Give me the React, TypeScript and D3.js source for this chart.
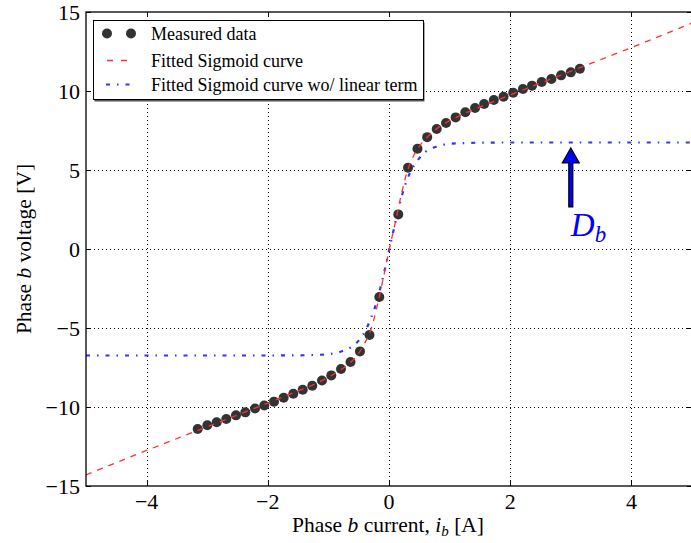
import * as d3 from "d3";
import { useEffect, useRef } from "react";

// measured points (current [A], voltage [V])
const measuredI = [
  -3.157, -2.998, -2.843, -2.685, -2.525, -2.371, -2.211, -2.058, -1.898, -1.738,
  -1.579, -1.424, -1.266, -1.106, -0.952, -0.792, -0.635, -0.479, -0.322, -0.16,
  0.153, 0.314, 0.47, 0.63, 0.787, 0.941, 1.1, 1.26, 1.42, 1.57,
  1.73, 1.89, 2.05, 2.21, 2.36, 2.52, 2.68, 2.84, 3.0, 3.15
];
const measuredV = [
  -11.39, -11.16, -10.97, -10.76, -10.53, -10.34, -10.09, -9.9, -9.66, -9.41,
  -9.16, -8.91, -8.65, -8.32, -8.0, -7.59, -7.15, -6.48, -5.44, -3.04,
  2.19, 5.15, 6.35, 7.08, 7.59, 7.97, 8.33, 8.65, 8.92, 9.18,
  9.43, 9.64, 9.89, 10.13, 10.34, 10.57, 10.76, 10.99, 11.18, 11.41
];

// fitted sigmoid curve
const fitI = [
  -5, -4, -3, -2, -1.5, -1.2, -1, -0.8, -0.6, -0.5, -0.4, -0.3, -0.2, -0.1, 0,
  0.1, 0.2, 0.3, 0.4, 0.5, 0.6, 0.8, 1, 1.2, 1.5, 2, 3, 4, 5
];
const fitV = [
  -14.3, -12.75, -11.25, -9.75, -8.98, -8.5, -8.12, -7.65, -7.05, -6.6, -5.95, -5.1, -3.7, -1.95, -0.1,
  1.6, 3.4, 4.9, 5.85, 6.5, 6.95, 7.65, 8.12, 8.5, 8.98, 9.75, 11.25, 12.75, 14.3
];

// fitted sigmoid without the linear term
const noLinI = [
  -5, -2, -1.5, -1.2, -1, -0.8, -0.6, -0.5, -0.4, -0.3, -0.2, -0.1, 0,
  0.1, 0.2, 0.3, 0.4, 0.5, 0.6, 0.8, 1, 1.2, 1.5, 2, 5
];
const noLinV = [
  -6.74, -6.74, -6.73, -6.7, -6.66, -6.5, -6.15, -5.8, -5.25, -4.4, -3.3, -1.8, -0.1,
  1.6, 3.2, 4.4, 5.2, 5.75, 6.15, 6.5, 6.66, 6.7, 6.73, 6.74, 6.74
];

const xTicks = [-4, -2, 0, 2, 4];
const yTicks = [-15, -10, -5, 0, 5, 10, 15];

// annotation arrow for D_b
const arrowI = 3.0;
const arrowFrom = 2.66;
const arrowTo = 6.4;

const FONT = "'Liberation Serif', 'Times New Roman', serif";

const drawChart = (node: SVGSVGElement) => {
  const W = 691;
  const H = 543;
  const left = 86, right = 692, top = 12, bottom = 486;

  const svg = d3.select(node);
  svg.selectAll("*").remove();
  svg.attr("width", W).attr("height", H);

  const x = d3.scaleLinear().domain([-5, 5]).range([left, right]);
  const y = d3.scaleLinear().domain([-15, 15]).range([bottom, top]);

  svg.append("rect").attr("width", W).attr("height", H).attr("fill", "#fff");

  svg.append("clipPath").attr("id", "plot-clip")
    .append("rect")
    .attr("x", left).attr("y", top)
    .attr("width", right - left).attr("height", bottom - top);

  // grid
  const grid = svg.append("g")
    .attr("stroke", "#000")
    .attr("stroke-width", 1)
    .attr("stroke-dasharray", "1,3");
  grid.selectAll("line.gx").data(xTicks).join("line")
    .attr("x1", d => Math.round(x(d)) + 0.5).attr("x2", d => Math.round(x(d)) + 0.5)
    .attr("y1", top).attr("y2", bottom);
  grid.selectAll("line.gy").data(yTicks.filter(d => d > -15 && d < 15)).join("line")
    .attr("y1", d => Math.round(y(d)) + 0.5).attr("y2", d => Math.round(y(d)) + 0.5)
    .attr("x1", left).attr("x2", right);

  const plot = svg.append("g").attr("clip-path", "url(#plot-clip)");

  const line = d3.line<[number, number]>()
    .x(d => x(d[0]))
    .y(d => y(d[1]))
    .curve(d3.curveMonotoneX);

  // blue dash-dot curve
  plot.append("path")
    .datum(noLinI.map((v, i) => [v, noLinV[i]] as [number, number]))
    .attr("fill", "none")
    .attr("stroke", "#3333ff")
    .attr("stroke-width", 2.2)
    .attr("stroke-dasharray", "4,7,1.5,7")
    .attr("d", line);

  // measured data
  plot.selectAll("circle.pt")
    .data(measuredI.map((v, i) => [v, measuredV[i]]))
    .join("circle")
    .attr("cx", d => x(d[0]))
    .attr("cy", d => y(d[1]))
    .attr("r", 5)
    .attr("fill", "#333333");

  // red dashed curve
  plot.append("path")
    .datum(fitI.map((v, i) => [v, fitV[i]] as [number, number]))
    .attr("fill", "none")
    .attr("stroke", "#ff3030")
    .attr("stroke-width", 1.3)
    .attr("stroke-dasharray", "6,6")
    .attr("d", line);

  // frame + inward ticks
  const axes = svg.append("g").attr("stroke", "#000").attr("fill", "none");
  axes.append("rect")
    .attr("x", left).attr("y", top)
    .attr("width", right - left).attr("height", bottom - top)
    .attr("stroke-width", 1.3);
  xTicks.forEach(t => {
    const px = Math.round(x(t)) + 0.5;
    axes.append("line").attr("x1", px).attr("x2", px).attr("y1", bottom).attr("y2", bottom - 5);
    axes.append("line").attr("x1", px).attr("x2", px).attr("y1", top).attr("y2", top + 5);
  });
  yTicks.forEach(t => {
    const py = Math.round(y(t)) + 0.5;
    axes.append("line").attr("y1", py).attr("y2", py).attr("x1", left).attr("x2", left + 5);
    axes.append("line").attr("y1", py).attr("y2", py).attr("x1", right).attr("x2", right - 5);
  });

  const fmt = (d: number) => (d < 0 ? "\u2212" + Math.abs(d) : String(d));

  svg.append("g").selectAll("text").data(xTicks).join("text")
    .attr("x", d => x(d))
    .attr("y", bottom + 23)
    .attr("text-anchor", "middle")
    .style("font-family", FONT)
    .style("font-size", "22px")
    .text(fmt);

  svg.append("g").selectAll("text").data(yTicks).join("text")
    .attr("x", left - 6)
    .attr("y", d => y(d) + 7.5)
    .attr("text-anchor", "end")
    .style("font-family", FONT)
    .style("font-size", "22px")
    .text(fmt);

  // axis labels
  const xl = svg.append("text")
    .attr("x", (left + 690) / 2)
    .attr("y", 532)
    .attr("text-anchor", "middle")
    .style("font-family", FONT)
    .style("font-size", "21.5px");
  xl.append("tspan").text("Phase ");
  xl.append("tspan").style("font-style", "italic").text("b");
  xl.append("tspan").text(" current, ");
  xl.append("tspan").style("font-style", "italic").text("i");
  xl.append("tspan").style("font-style", "italic").style("font-size", "15px").attr("dy", 4).text("b");
  xl.append("tspan").attr("dy", -4).text(" [A]");

  const yl = svg.append("text")
    .attr("transform", `translate(31,${(top + bottom) / 2}) rotate(-90)`)
    .attr("text-anchor", "middle")
    .style("font-family", FONT)
    .style("font-size", "21.5px");
  yl.append("tspan").text("Phase ");
  yl.append("tspan").style("font-style", "italic").text("b");
  yl.append("tspan").text(" voltage [V]");

  // annotation arrow
  const ax = x(arrowI);
  const yTip = y(arrowTo);
  const yTail = y(arrowFrom);
  const headLen = 15, headHalf = 8.5, shaft = 2;
  svg.append("path")
    .attr("d", `M${ax - shaft},${yTail} L${ax - shaft},${yTip + headLen} L${ax - headHalf},${yTip + headLen} L${ax},${yTip} L${ax + headHalf},${yTip + headLen} L${ax + shaft},${yTip + headLen} L${ax + shaft},${yTail} Z`)
    .attr("fill", "#0000ff")
    .attr("stroke", "#000")
    .attr("stroke-width", 1.2);

  const db = svg.append("text")
    .attr("x", ax)
    .attr("y", y(0.84))
    .attr("fill", "#0000ff")
    .style("font-family", FONT)
    .style("font-style", "italic")
    .style("font-size", "33px");
  db.append("tspan").text("D");
  db.append("tspan").attr("dy", 6).style("font-size", "23px").text("b");

  // legend
  const lg = svg.append("g");
  lg.append("rect")
    .attr("x", 94.5).attr("y", 22.5).attr("width", 330).attr("height", 79)
    .attr("fill", "#555");
  lg.append("rect")
    .attr("x", 93.5).attr("y", 20.5).attr("width", 330).attr("height", 79)
    .attr("fill", "#fff").attr("stroke", "#000").attr("stroke-width", 1);

  const rows = [
    { label: "Measured data", y: 33.5 },
    { label: "Fitted Sigmoid curve", y: 60.5 },
    { label: "Fitted Sigmoid curve wo/ linear term", y: 84.5 }
  ];
  lg.selectAll("text").data(rows).join("text")
    .attr("x", 151)
    .attr("y", d => d.y + 6)
    .style("font-family", FONT)
    .style("font-size", "18px")
    .text(d => d.label);

  lg.selectAll("circle").data([107, 131]).join("circle")
    .attr("cx", d => d).attr("cy", rows[0].y).attr("r", 5).attr("fill", "#333333");
  lg.append("line")
    .attr("x1", 107).attr("x2", 133).attr("y1", rows[1].y).attr("y2", rows[1].y)
    .attr("stroke", "#ff3030").attr("stroke-width", 1.3).attr("stroke-dasharray", "6,8");
  lg.append("line")
    .attr("x1", 106).attr("x2", 134).attr("y1", rows[2].y).attr("y2", rows[2].y)
    .attr("stroke", "#3333ff").attr("stroke-width", 2.2).attr("stroke-dasharray", "4,7,1.5,7");
};

export default function App() {
  const ref = useRef<SVGSVGElement>(null);

  useEffect(() => {
    if (ref.current) drawChart(ref.current);
  }, []);

  return (
    <div style={{ position: "absolute", left: 0, top: 0 }}>
      <svg ref={ref} style={{ display: "block" }}></svg>
    </div>
  );
}
